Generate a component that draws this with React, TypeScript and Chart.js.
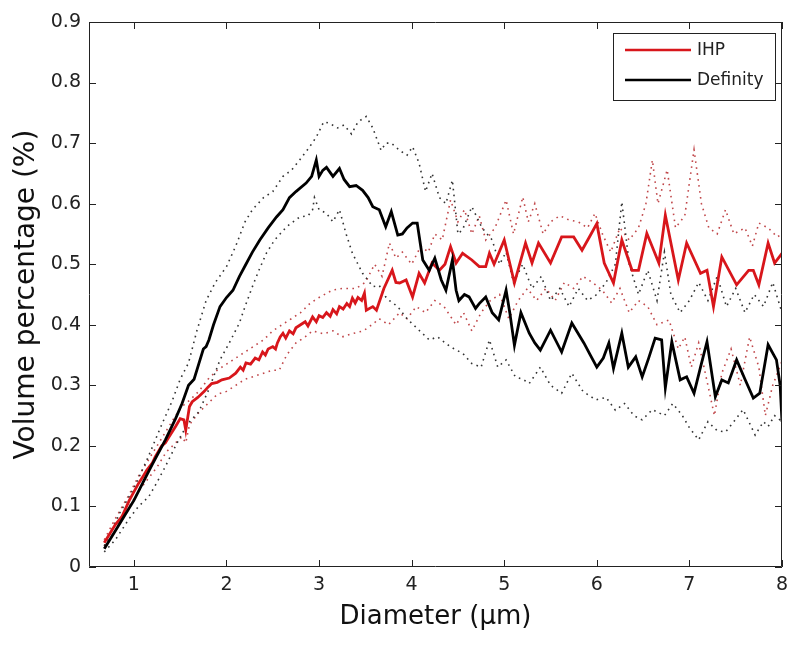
import React, { useEffect, useRef } from "react";
import { Chart, registerables } from "chart.js";

Chart.register(...registerables);

// [diameter (µm), volume percentage (%)]
const ihpMean: [number, number][] = [
  [0.68,0.04],[0.8,0.07],[0.87,0.083],[0.95,0.11],[1.05,0.138],[1.1,0.15],[1.14,0.16],[1.2,0.172],[1.23,0.182],[1.3,0.2],[1.34,0.205],[1.38,0.215],[1.45,0.232],[1.5,0.245],[1.54,0.243],[1.56,0.226],[1.6,0.265],[1.63,0.273],[1.69,0.28],[1.76,0.29],[1.8,0.297],[1.84,0.303],[1.9,0.305],[1.95,0.309],[2.03,0.312],[2.1,0.32],[2.15,0.33],[2.18,0.325],[2.21,0.337],[2.26,0.335],[2.31,0.345],[2.35,0.342],[2.39,0.355],[2.42,0.35],[2.45,0.36],[2.5,0.364],[2.53,0.36],[2.55,0.37],[2.58,0.38],[2.61,0.386],[2.64,0.378],[2.68,0.39],[2.72,0.385],[2.75,0.395],[2.8,0.4],[2.85,0.405],[2.88,0.398],[2.93,0.413],[2.97,0.405],[3.0,0.415],[3.04,0.412],[3.08,0.42],[3.12,0.414],[3.15,0.425],[3.19,0.418],[3.22,0.43],[3.26,0.426],[3.3,0.435],[3.33,0.43],[3.36,0.444],[3.39,0.436],[3.42,0.445],[3.46,0.44],[3.49,0.452],[3.51,0.424],[3.58,0.43],[3.62,0.424],[3.7,0.46],[3.79,0.49],[3.83,0.47],[3.87,0.469],[3.94,0.474],[4.01,0.446],[4.08,0.485],[4.14,0.469],[4.22,0.502],[4.3,0.49],[4.36,0.5],[4.42,0.529],[4.48,0.502],[4.55,0.518],[4.65,0.507],[4.73,0.496],[4.8,0.496],[4.84,0.518],[4.89,0.5],[5.0,0.54],[5.11,0.469],[5.23,0.535],[5.3,0.502],[5.37,0.535],[5.5,0.502],[5.62,0.545],[5.75,0.545],[5.84,0.523],[5.92,0.545],[6.0,0.567],[6.08,0.502],[6.18,0.469],[6.27,0.54],[6.38,0.49],[6.45,0.49],[6.54,0.551],[6.67,0.502],[6.74,0.581],[6.88,0.474],[6.97,0.535],[7.12,0.485],[7.19,0.49],[7.26,0.43],[7.35,0.512],[7.51,0.466],[7.64,0.49],[7.69,0.49],[7.75,0.466],[7.85,0.535],[7.92,0.502],[8.0,0.518]
];

const ihpUpper: [number, number][] = [
  [0.68,0.045],[0.8,0.08],[0.95,0.12],[1.05,0.15],[1.15,0.175],[1.25,0.2],[1.35,0.225],[1.45,0.25],[1.52,0.265],[1.6,0.275],[1.7,0.29],[1.8,0.31],[1.9,0.325],[2.0,0.335],[2.1,0.345],[2.2,0.355],[2.3,0.365],[2.4,0.375],[2.5,0.39],[2.6,0.4],[2.7,0.41],[2.8,0.42],[2.9,0.435],[3.0,0.445],[3.14,0.457],[3.25,0.46],[3.4,0.46],[3.5,0.47],[3.6,0.5],[3.68,0.48],[3.76,0.535],[3.83,0.51],[3.9,0.52],[4.0,0.5],[4.1,0.53],[4.18,0.52],[4.25,0.55],[4.33,0.54],[4.42,0.606],[4.5,0.57],[4.57,0.59],[4.65,0.55],[4.73,0.58],[4.8,0.54],[4.9,0.56],[5.02,0.606],[5.1,0.55],[5.2,0.611],[5.26,0.57],[5.33,0.6],[5.42,0.55],[5.5,0.57],[5.6,0.58],[5.7,0.573],[5.8,0.57],[5.9,0.56],[5.98,0.584],[6.06,0.55],[6.15,0.52],[6.25,0.56],[6.35,0.54],[6.45,0.56],[6.53,0.6],[6.6,0.672],[6.66,0.6],[6.76,0.656],[6.85,0.56],[6.95,0.58],[7.05,0.689],[7.13,0.6],[7.21,0.56],[7.3,0.55],[7.39,0.59],[7.48,0.55],[7.6,0.56],[7.68,0.53],[7.75,0.568],[7.85,0.56],[7.95,0.545],[8.0,0.55]
];

const ihpLower: [number, number][] = [
  [0.68,0.035],[0.8,0.06],[0.95,0.1],[1.05,0.125],[1.15,0.145],[1.25,0.165],[1.35,0.19],[1.45,0.205],[1.52,0.215],[1.56,0.205],[1.6,0.235],[1.7,0.255],[1.8,0.27],[1.9,0.285],[2.0,0.29],[2.1,0.3],[2.2,0.31],[2.3,0.315],[2.4,0.32],[2.5,0.325],[2.57,0.325],[2.65,0.35],[2.75,0.37],[2.85,0.38],[2.93,0.39],[3.05,0.385],[3.15,0.39],[3.25,0.38],[3.35,0.385],[3.48,0.39],[3.57,0.4],[3.65,0.41],[3.75,0.4],[3.87,0.42],[3.95,0.41],[4.05,0.43],[4.15,0.42],[4.25,0.44],[4.35,0.43],[4.48,0.4],[4.56,0.42],[4.65,0.39],[4.75,0.42],[4.85,0.44],[4.95,0.45],[5.05,0.41],[5.15,0.44],[5.25,0.46],[5.35,0.44],[5.45,0.46],[5.55,0.44],[5.65,0.47],[5.75,0.46],[5.85,0.48],[5.95,0.47],[6.06,0.457],[6.16,0.436],[6.25,0.46],[6.35,0.42],[6.45,0.44],[6.55,0.43],[6.65,0.4],[6.78,0.408],[6.88,0.36],[6.95,0.38],[7.02,0.33],[7.1,0.37],[7.2,0.3],[7.27,0.25],[7.35,0.32],[7.45,0.36],[7.55,0.3],[7.65,0.38],[7.75,0.33],[7.82,0.25],[7.9,0.3],[8.0,0.34]
];

const definityMean: [number, number][] = [
  [0.68,0.03],[0.8,0.06],[0.9,0.085],[1.0,0.11],[1.1,0.14],[1.2,0.17],[1.34,0.21],[1.45,0.245],[1.52,0.27],[1.59,0.3],[1.65,0.31],[1.7,0.335],[1.75,0.36],[1.78,0.364],[1.81,0.375],[1.86,0.4],[1.93,0.43],[2.0,0.445],[2.07,0.457],[2.14,0.48],[2.21,0.5],[2.28,0.52],[2.36,0.54],[2.45,0.56],[2.54,0.578],[2.61,0.59],[2.68,0.61],[2.75,0.62],[2.86,0.634],[2.92,0.645],[2.97,0.672],[3.0,0.645],[3.04,0.655],[3.08,0.66],[3.15,0.645],[3.22,0.658],[3.27,0.64],[3.33,0.628],[3.4,0.63],[3.47,0.622],[3.53,0.61],[3.58,0.595],[3.65,0.59],[3.72,0.562],[3.78,0.587],[3.85,0.548],[3.9,0.55],[3.95,0.56],[4.01,0.568],[4.06,0.568],[4.12,0.507],[4.19,0.49],[4.25,0.51],[4.32,0.474],[4.37,0.457],[4.44,0.507],[4.48,0.457],[4.51,0.44],[4.57,0.45],[4.62,0.446],[4.69,0.427],[4.73,0.435],[4.8,0.446],[4.87,0.42],[4.94,0.408],[5.02,0.457],[5.06,0.42],[5.11,0.366],[5.18,0.42],[5.27,0.386],[5.33,0.37],[5.39,0.358],[5.5,0.391],[5.62,0.355],[5.73,0.403],[5.86,0.37],[5.93,0.35],[6.0,0.33],[6.07,0.345],[6.13,0.37],[6.18,0.328],[6.27,0.386],[6.34,0.33],[6.42,0.347],[6.49,0.314],[6.56,0.345],[6.63,0.378],[6.7,0.375],[6.74,0.296],[6.81,0.372],[6.9,0.309],[6.97,0.314],[7.05,0.287],[7.12,0.33],[7.19,0.372],[7.28,0.281],[7.35,0.309],[7.42,0.304],[7.51,0.342],[7.6,0.31],[7.69,0.279],[7.76,0.287],[7.85,0.367],[7.94,0.342],[7.98,0.3],[8.0,0.24]
];

const definityUpper: [number, number][] = [
  [0.68,0.035],[0.85,0.09],[1.0,0.13],[1.15,0.18],[1.3,0.235],[1.41,0.273],[1.5,0.31],[1.59,0.337],[1.68,0.39],[1.78,0.44],[1.88,0.47],[2.0,0.496],[2.1,0.53],[2.2,0.57],[2.28,0.59],[2.4,0.61],[2.5,0.62],[2.61,0.645],[2.7,0.655],[2.79,0.672],[2.88,0.69],[2.97,0.71],[3.05,0.735],[3.11,0.733],[3.2,0.725],[3.27,0.73],[3.35,0.715],[3.42,0.735],[3.51,0.744],[3.58,0.725],[3.67,0.688],[3.72,0.7],[3.78,0.7],[3.87,0.688],[3.95,0.68],[4.01,0.694],[4.08,0.667],[4.15,0.62],[4.22,0.65],[4.3,0.61],[4.37,0.6],[4.44,0.639],[4.5,0.55],[4.55,0.557],[4.65,0.595],[4.76,0.56],[4.87,0.54],[4.95,0.5],[5.02,0.52],[5.1,0.47],[5.2,0.5],[5.3,0.46],[5.4,0.48],[5.5,0.44],[5.6,0.46],[5.7,0.43],[5.8,0.46],[5.9,0.44],[6.0,0.45],[6.1,0.47],[6.2,0.5],[6.27,0.603],[6.35,0.5],[6.45,0.45],[6.55,0.49],[6.65,0.44],[6.73,0.52],[6.8,0.45],[6.9,0.42],[7.0,0.44],[7.1,0.47],[7.2,0.44],[7.3,0.48],[7.4,0.43],[7.5,0.46],[7.6,0.42],[7.7,0.45],[7.8,0.43],[7.9,0.47],[8.0,0.42]
];

const definityLower: [number, number][] = [
  [0.68,0.025],[0.8,0.045],[0.95,0.08],[1.05,0.1],[1.16,0.116],[1.25,0.14],[1.34,0.166],[1.45,0.2],[1.52,0.22],[1.59,0.238],[1.7,0.256],[1.8,0.29],[1.93,0.342],[2.03,0.37],[2.14,0.403],[2.2,0.43],[2.28,0.463],[2.35,0.49],[2.43,0.518],[2.52,0.54],[2.65,0.562],[2.79,0.578],[2.88,0.58],[2.93,0.59],[2.95,0.61],[3.0,0.59],[3.08,0.584],[3.15,0.57],[3.22,0.59],[3.29,0.551],[3.36,0.518],[3.47,0.485],[3.58,0.463],[3.65,0.465],[3.72,0.446],[3.76,0.44],[3.85,0.43],[3.95,0.41],[4.08,0.391],[4.19,0.375],[4.28,0.38],[4.37,0.369],[4.46,0.36],[4.55,0.353],[4.65,0.336],[4.75,0.33],[4.84,0.375],[4.93,0.33],[5.02,0.342],[5.12,0.314],[5.2,0.31],[5.27,0.303],[5.39,0.33],[5.5,0.3],[5.62,0.287],[5.73,0.32],[5.85,0.29],[5.99,0.276],[6.1,0.28],[6.2,0.259],[6.3,0.27],[6.4,0.25],[6.49,0.243],[6.6,0.26],[6.73,0.25],[6.82,0.27],[6.92,0.251],[7.0,0.23],[7.1,0.21],[7.2,0.24],[7.3,0.225],[7.39,0.223],[7.48,0.24],[7.58,0.26],[7.71,0.218],[7.8,0.24],[7.85,0.232],[7.92,0.25],[8.0,0.24]
];

const xTickValues = [1, 2, 3, 4, 5, 6, 7, 8];
const yTickValues = [0, 0.1, 0.2, 0.3, 0.4, 0.5, 0.6, 0.7, 0.8, 0.9];
const seriesLabels = ["IHP", "Definity"];
const xTitle = "Diameter (\u03BCm)";
const yTitle = "Volume percentage (%)";

const RED = "#d8161b";
const RED_DOT = "#c0474a";
const BLACK = "#000000";
const BLACK_DOT = "#333333";
const FONT = "'DejaVu Sans', 'Liberation Sans', sans-serif";

const toPoints = (arr: [number, number][]) => arr.map(([x, y]) => ({ x, y }));

const frameAndLegend = {
  id: "frameAndLegend",
  afterDraw(chart: any) {
    const { ctx, chartArea } = chart;
    const { left, right, top, bottom } = chartArea;
    const xs = chart.scales.x;
    const ys = chart.scales.y;
    ctx.save();
    ctx.strokeStyle = "#222";
    ctx.lineWidth = 1;
    ctx.beginPath();
    ctx.rect(left + 0.5, top + 0.5, right - left - 1, bottom - top - 1);
    ctx.stroke();
    const tl = 7;
    ctx.beginPath();
    xTickValues.forEach((v) => {
      const px = Math.round(xs.getPixelForValue(v)) + 0.5;
      ctx.moveTo(px, bottom);
      ctx.lineTo(px, bottom - tl);
      ctx.moveTo(px, top);
      ctx.lineTo(px, top + tl);
    });
    yTickValues.forEach((v) => {
      const py = Math.round(ys.getPixelForValue(v)) + 0.5;
      ctx.moveTo(left, py);
      ctx.lineTo(left + tl, py);
      ctx.moveTo(right, py);
      ctx.lineTo(right - tl, py);
    });
    ctx.stroke();

    // legend box
    const bx = 613, by = 33, bw = 162, bh = 67;
    ctx.fillStyle = "#fff";
    ctx.fillRect(bx, by, bw, bh);
    ctx.strokeStyle = "#222";
    ctx.lineWidth = 1;
    ctx.strokeRect(bx + 0.5, by + 0.5, bw, bh);
    const rows = [
      { label: seriesLabels[0], color: RED, y: 50 },
      { label: seriesLabels[1], color: BLACK, y: 80 },
    ];
    ctx.font = `17px ${FONT}`;
    ctx.textBaseline = "middle";
    ctx.textAlign = "left";
    rows.forEach((r) => {
      ctx.strokeStyle = r.color;
      ctx.lineWidth = 2.5;
      ctx.beginPath();
      ctx.moveTo(625, r.y);
      ctx.lineTo(691, r.y);
      ctx.stroke();
      ctx.fillStyle = "#222";
      ctx.fillText(r.label, 697, r.y + 1);
    });
    ctx.restore();
  },
};

export default function App() {
  const ref = useRef<HTMLCanvasElement | null>(null);
  useEffect(() => {
    if (!ref.current) return;
    const dotted = { borderWidth: 1.6, borderDash: [1.6, 4.4], pointRadius: 0, tension: 0 };
    const chart = new Chart(ref.current, {
      type: "line",
      data: {
        datasets: [
          { label: seriesLabels[0], data: toPoints(ihpMean), borderColor: RED, borderWidth: 2.8, pointRadius: 0, order: 1 },
          { label: seriesLabels[1], data: toPoints(definityMean), borderColor: BLACK, borderWidth: 2.8, pointRadius: 0, order: 0 },
          { label: "IHP upper", data: toPoints(ihpUpper), borderColor: RED_DOT, ...dotted, order: 3 },
          { label: "IHP lower", data: toPoints(ihpLower), borderColor: RED_DOT, ...dotted, order: 3 },
          { label: "Definity upper", data: toPoints(definityUpper), borderColor: BLACK_DOT, ...dotted, order: 2 },
          { label: "Definity lower", data: toPoints(definityLower), borderColor: BLACK_DOT, ...dotted, order: 2 },
        ],
      },
      options: {
        responsive: false,
        animation: false,
        events: [],
        layout: { padding: { left: 0, right: 18, top: 22, bottom: 0 } },
        plugins: { legend: { display: false }, tooltip: { enabled: false } },
        scales: {
          x: {
            type: "linear",
            min: 0.515,
            max: 8,
            afterBuildTicks: (s: any) => { s.ticks = xTickValues.map((v) => ({ value: v })); },
            afterFit: (s: any) => { s.height = 80; },
            grid: { display: false, drawTicks: false },
            border: { display: false },
            ticks: { color: "#222", font: { family: FONT, size: 19 }, padding: 7, maxRotation: 0, callback: (v: any) => String(v) },
            title: { display: true, text: xTitle, color: "#111", font: { family: FONT, size: 26 }, padding: { top: 0, bottom: 14 } },
          },
          y: {
            type: "linear",
            min: 0,
            max: 0.9,
            afterBuildTicks: (s: any) => { s.ticks = yTickValues.map((v) => ({ value: v })); },
            afterFit: (s: any) => { s.width = 89; },
            grid: { display: false, drawTicks: false },
            border: { display: false },
            ticks: { color: "#222", font: { family: FONT, size: 19 }, padding: 8, callback: (v: any) => (v === 0 ? "0" : Number(v).toFixed(1)) },
            title: { display: true, text: yTitle, color: "#111", font: { family: FONT, size: 28 }, padding: { top: 10, bottom: 0 } },
          },
        },
      },
      plugins: [frameAndLegend],
    } as any);
    return () => chart.destroy();
  }, []);
  return (
    <div style={{ position: "fixed", left: 0, top: 0, width: 800, height: 647, background: "#fff" }}>
      <canvas ref={ref} width={800} height={647} style={{ display: "block" }} />
    </div>
  );
}
